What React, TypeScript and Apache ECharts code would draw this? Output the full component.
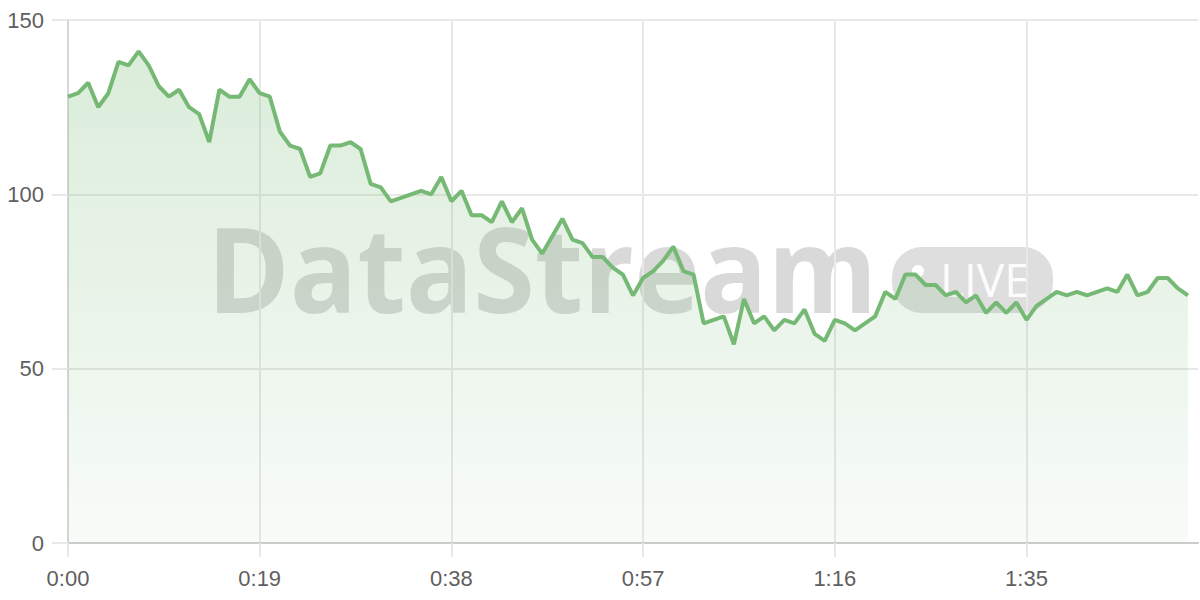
import React, { useEffect, useRef } from "react";
import * as echarts from "echarts";

const values: number[] = [
  128, 129, 132, 125, 129, 138, 137, 141, 137, 131,
  128, 130, 125, 123, 115, 130, 128, 128, 133, 129,
  128, 118, 114, 113, 105, 106, 114, 114, 115, 113,
  103, 102, 98, 99, 100, 101, 100, 105, 98, 101,
  94, 94, 92, 98, 92, 96, 87, 83, 88, 93,
  87, 86, 82, 82, 79, 77, 71, 76, 78, 81,
  85, 78, 77, 63, 64, 65, 57, 70, 63, 65,
  61, 64, 63, 67, 60, 58, 64, 63, 61, 63,
  65, 72, 70, 77, 77, 74, 74, 71, 72, 69,
  71, 66, 69, 66, 69, 64, 68, 70, 72, 71,
  72, 71, 72, 73, 72, 77, 71, 72, 76, 76,
  73, 71,
];

const totalSeconds = 113; // axis runs 0:00 .. 1:52
const categories: string[] = Array.from({ length: totalSeconds }, (_, i) =>
  `${Math.floor(i / 60)}:${String(i % 60).padStart(2, "0")}`
);

const yTicks = { min: 0, max: 150, interval: 50 };
const watermarkText = "DataStream";
const badgeText = "LIVE";

const LINE = "#76b975";
const GRID = "#e8e8e8";
const LABEL = "#5f5f5f";
const FONT = "Liberation Sans, Arial, sans-serif";

export default function App() {
  const ref = useRef<HTMLDivElement>(null);
  useEffect(() => {
    if (!ref.current) return;
    const chart = echarts.init(ref.current, undefined, { renderer: "svg" });
    chart.setOption({
      animation: false,
      backgroundColor: "#ffffff",
      grid: { left: 68, right: 2, top: 20, bottom: 57 },
      graphic: [
        {
          type: "text",
          z: 0,
          x: 207,
          y: 208,
          scaleX: 0.947,
          style: {
            text: watermarkText,
            fontSize: 118,
            fontWeight: "bold",
            fontFamily: "Open Sans, Noto Sans, sans-serif",
            fill: "rgba(0,0,0,0.15)",
          },
        },
        {
          type: "rect",
          z: 0,
          shape: { x: 892, y: 247, width: 161, height: 66, r: 30 },
          style: { fill: "rgba(0,0,0,0.13)" },
        },
        {
          type: "circle",
          z: 0,
          shape: { cx: 918, cy: 271, r: 6 },
          style: { fill: "rgba(255,255,255,0.95)" },
        },
        {
          type: "text",
          z: 0,
          x: 940,
          y: 279,
          style: {
            text: badgeText,
            fontSize: 46,
            fontWeight: 500,
            fontFamily: "Open Sans, Noto Sans, sans-serif",
            fill: "rgba(255,255,255,0.95)",
            verticalAlign: "middle",
          },
        },
      ],
      xAxis: {
        type: "category",
        data: categories,
        boundaryGap: false,
        axisLine: { show: true, lineStyle: { color: "#cccccc", width: 2 } },
        axisTick: {
          show: true,
          interval: 18,
          length: 14,
          lineStyle: { color: GRID, width: 2 },
        },
        axisLabel: {
          interval: 18,
          margin: 24,
          color: LABEL,
          fontSize: 22,
          fontFamily: FONT,
        },
        splitLine: {
          show: true,
          interval: 18,
          lineStyle: { color: GRID, width: 2 },
        },
      },
      yAxis: {
        type: "value",
        min: yTicks.min,
        max: yTicks.max,
        interval: yTicks.interval,
        axisLine: { show: true, lineStyle: { color: "#d6d6d6", width: 2 } },
        axisTick: { show: true, length: 16, lineStyle: { color: GRID, width: 2 } },
        axisLabel: {
          margin: 24,
          color: LABEL,
          fontSize: 22,
          fontFamily: FONT,
        },
        splitLine: { show: true, lineStyle: { color: GRID, width: 2 } },
      },
      series: [
        {
          type: "line",
          data: values,
          z: 2,
          symbol: "none",
          lineStyle: { color: LINE, width: 4 },
          areaStyle: {
            color: new echarts.graphic.LinearGradient(0, 0, 0, 1, [
              { offset: 0, color: "rgba(118,185,117,0.38)" },
              { offset: 1, color: "rgba(118,185,117,0.07)" },
            ]),
          },
        },
      ],
    });
    return () => chart.dispose();
  }, []);
  return (
    <div
      ref={ref}
      style={{ position: "absolute", left: 0, top: 0, width: 1200, height: 600 }}
    />
  );
}
